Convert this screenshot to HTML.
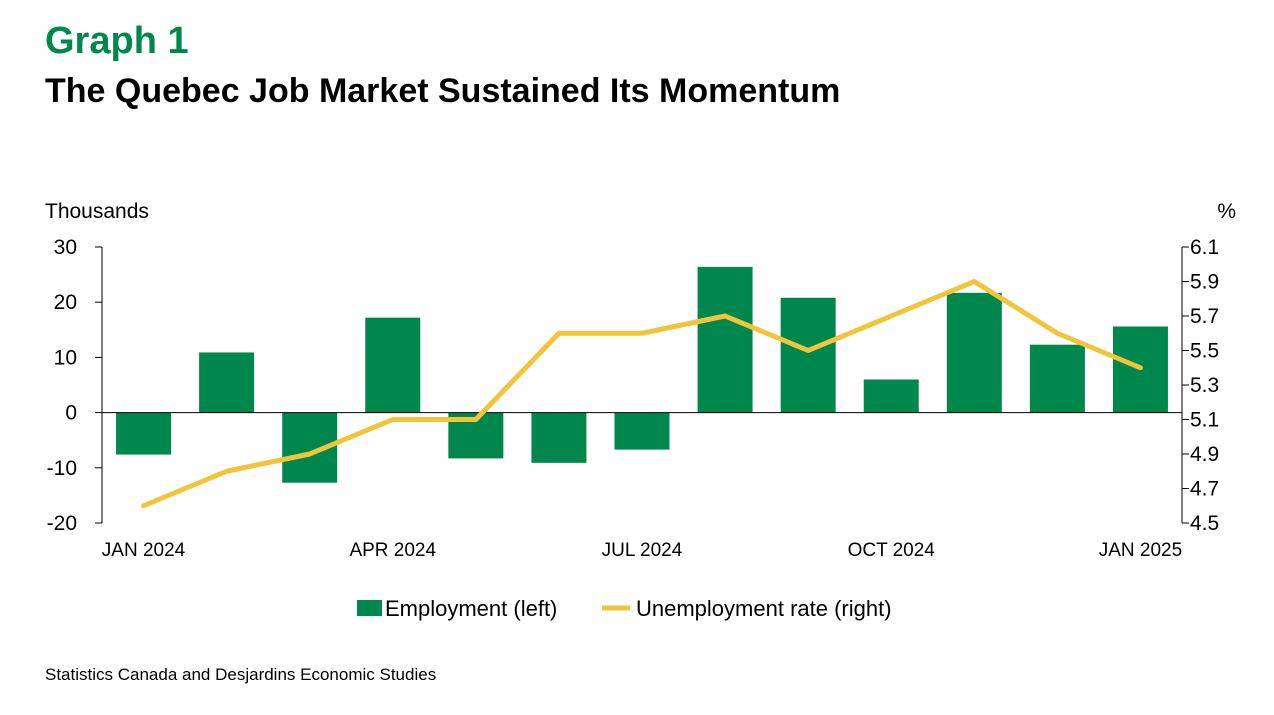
<!DOCTYPE html>
<html><head><meta charset="utf-8"><style>
body{margin:0;width:1274px;height:715px;background:#fff;font-family:"Liberation Sans",sans-serif;overflow:hidden;position:relative}
.t{position:absolute;white-space:nowrap}
</style></head><body>
<div class="t" style="left:45px;top:20px;font-size:38px;font-weight:bold;color:#00874E">Graph 1</div>
<div class="t" style="left:45px;top:72px;font-size:34px;font-weight:bold;color:#000">The Quebec Job Market Sustained Its Momentum</div>
<div class="t" style="left:45px;top:665px;font-size:17px">Statistics Canada and Desjardins Economic Studies</div>
<svg id="c" width="1274" height="715" style="position:absolute;left:0;top:0"></svg>
<script>
const categories=["JAN 2024","FEB 2024","MAR 2024","APR 2024","MAY 2024","JUN 2024","JUL 2024","AUG 2024","SEP 2024","OCT 2024","NOV 2024","DEC 2024","JAN 2025"];
const employment=[-7.6,10.9,-12.7,17.2,-8.3,-9.1,-6.7,26.4,20.8,6.0,21.7,12.3,15.6];
const unemployment=[4.6,4.8,4.9,5.1,5.1,5.6,5.6,5.7,5.5,5.7,5.9,5.6,5.4];
const leftTicks=[30,20,10,0,-10,-20];
const rightTicks=[6.1,5.9,5.7,5.5,5.3,5.1,4.9,4.7,4.5];
const xLabelIdx=[0,3,6,9,12];
const NS="http://www.w3.org/2000/svg",svg=document.getElementById('c');
const X0=102,X1=1182,Y0=247,Y1=523;
const bw=(X1-X0)/categories.length;
const xc=i=>X0+bw*(i+0.5);
const yl=v=>Y0+(30-v)*(Y1-Y0)/50;
const yr=v=>Y0+(6.1-v)*(Y1-Y0)/1.6;
function mk(t,a,p){const e=document.createElementNS(NS,t);for(const k in a)e.setAttribute(k,a[k]);(p||svg).appendChild(e);return e;}
function txt(s,x,y,anchor,size){const e=mk('text',{x:x,y:y,'text-anchor':anchor,'font-size':size,'font-family':'Liberation Sans, sans-serif',fill:'#000'});e.textContent=s;return e;}
employment.forEach((v,i)=>{const y=Math.min(yl(v),yl(0)),h=Math.abs(yl(v)-yl(0));
const r=mk('rect',{x:xc(i)-27.5,y:y,width:55,height:h,fill:'#00874E'});

});
let l=mk('line',{x1:X0,y1:Y0,x2:X0,y2:Y1,stroke:'#000','stroke-width':1});

l=mk('line',{x1:X1,y1:Y0,x2:X1,y2:Y1,stroke:'#000','stroke-width':1});

l=mk('line',{x1:X0,y1:yl(0),x2:X1,y2:yl(0),stroke:'#000','stroke-width':1});

leftTicks.forEach(v=>{mk('line',{x1:X0-7,y1:yl(v),x2:X0,y2:yl(v),stroke:'#000'});
const t=txt(String(v),77,yl(v)+7,'end',21);});
rightTicks.forEach(v=>{mk('line',{x1:X1,y1:yr(v),x2:X1+7,y2:yr(v),stroke:'#000'});
const t=txt(v.toFixed(1),1190,yr(v)+7,'start',21);});
xLabelIdx.forEach(i=>{const t=txt(categories[i],xc(i),556,'middle',19);});
const pl=mk('polyline',{points:unemployment.map((v,i)=>xc(i)+','+yr(v)).join(' '),fill:'none',stroke:'#F2C43A','stroke-width':5,'stroke-linejoin':'round','stroke-linecap':'round'});

let t=txt('Thousands',45,218,'start',21);
t=txt('%',1236,218,'end',21);
let g=mk('g',{});
mk('rect',{x:357,y:600,width:25,height:16,fill:'#00874E'},g);
const a=txt('Employment (left)',385,616,'start',22);g.appendChild(a);
g=mk('g',{});
mk('line',{x1:602,y1:608,x2:630,y2:608,stroke:'#F2C43A','stroke-width':5},g);
const b=txt('Unemployment rate (right)',636,616,'start',22);g.appendChild(b);
</script>
</body></html>
